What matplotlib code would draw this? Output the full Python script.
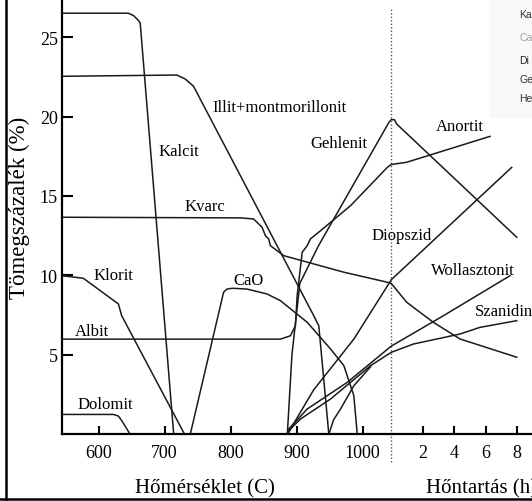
import matplotlib.pyplot as plt
from matplotlib.lines import Line2D
from matplotlib.patches import Rectangle

plt.rcParams['font.family'] = ['Liberation Serif', 'DejaVu Serif']

# Firing temperature part (C) of each mineral curve, mass %
kalcit_T = [544.5, 645, 653, 659, 663, 713.8]
kalcit_pct = [26.5, 26.5, 26.35, 26.1, 25.9, 0.0]

illit_T = [544.5, 718.6, 731.3, 743.9, 926.1, 933.7, 948.9]
illit_pct = [22.53, 22.61, 22.36, 21.9, 7.46, 6.83, 0.0]

kvarc_T = [544.5, 814.8, 835.0, 847.7, 852.8, 857.8, 860.4, 880.6, 971.7, 1037.6, 1043.6]
kvarc_pct = [13.66, 13.62, 13.55, 13.03, 12.5, 12.29, 11.87, 11.24, 10.2, 9.57, 9.49]

klorit_T = [544.5, 576.9, 630.0, 635.0, 730.3]
klorit_pct = [9.98, 9.82, 8.2, 7.46, 0.0]

albit_T = [544.5, 875.5, 890.7, 898.3, 900.9, 908.5, 916.1, 921.1, 936.3, 981.9, 1037.6, 1043.6]
albit_pct = [5.99, 5.99, 6.2, 6.83, 8.72, 11.45, 11.87, 12.3, 12.81, 14.39, 16.8, 16.98]

dolomit_T = [544.5, 622.4, 630.0, 635.0, 647.8]
dolomit_pct = [1.25, 1.25, 1.15, 0.86, 0.0]

cao_T = [738.9, 789.4, 794.6, 802.6, 825.0, 855.3, 875.5, 916.1, 951.5, 971.7, 986.8, 992.0]
cao_pct = [0.0, 8.94, 9.14, 9.19, 9.14, 8.83, 8.41, 7.05, 5.37, 4.32, 2.43, 0.0]

gehlenit_T = [886.0, 893.0, 905.0, 933.3, 1040.0, 1043.6]
gehlenit_pct = [0.0, 5.0, 9.5, 11.87, 19.63, 19.8]

diopszid_T = [886.0, 926.0, 987.0, 1043.6]
diopszid_pct = [0.0, 2.8, 6.0, 9.73]

woll_T = [885.7, 888.1, 916.1, 976.8, 1043.6]
woll_pct = [0.0, 0.33, 1.59, 3.27, 5.55]

szanidin_T = [886.5, 890.7, 905.9, 951.5, 1012.2, 1043.6]
szanidin_pct = [0.0, 0.33, 0.96, 2.22, 4.32, 5.16]

# second branch joining the Szanidin curve from 950 C
szanidin_b_T = [948.9, 956.0, 966.6, 986.9, 1012.2]
szanidin_b_pct = [0.0, 0.9, 1.59, 3.06, 4.25]

# Holding time part (h)
gehlenit_h = [0.0, 0.2, 0.34, 7.98]
gehlenit_h_pct = [19.8, 19.8, 19.53, 12.4]

albit_h = [0.0, 0.98, 6.28]
albit_h_pct = [16.98, 17.12, 18.75]

kvarc_h = [0.0, 0.98, 2.67, 4.37, 7.98]
kvarc_h_pct = [9.49, 8.31, 7.05, 6.0, 4.85]

diopszid_h = [0.0, 7.66]
diopszid_h_pct = [9.73, 16.8]

woll_h = [0.0, 3.31, 7.55]
woll_h_pct = [5.55, 7.46, 9.98]

szanidin_h = [0.0, 1.40, 4.37, 5.64, 7.98]
szanidin_h_pct = [5.16, 5.68, 6.31, 6.73, 7.15]

legend_names = ['Ka', 'Ca', 'Di', 'Ge', 'He']

W, H = 532, 502
fig = plt.figure(figsize=(W / 100, H / 100), dpi=100)
x0, x_split, y0 = 62, 391.3, 435.3
ax1 = fig.add_axes([x0 / W, 1 - y0 / H, (x_split - x0) / W, y0 / H])
ax2 = fig.add_axes([x_split / W, 1 - y0 / H, (W - x_split) / W, y0 / H])

lc = '#1a1a1a'
lw = 1.1
for T, p in [(kalcit_T, kalcit_pct), (illit_T, illit_pct), (kvarc_T, kvarc_pct),
             (klorit_T, klorit_pct), (albit_T, albit_pct), (dolomit_T, dolomit_pct),
             (cao_T, cao_pct), (gehlenit_T, gehlenit_pct), (diopszid_T, diopszid_pct),
             (woll_T, woll_pct), (szanidin_T, szanidin_pct), (szanidin_b_T, szanidin_b_pct)]:
    ax1.plot(T, p, color=lc, lw=lw, solid_joinstyle='round')
for h, p in [(gehlenit_h, gehlenit_h_pct), (albit_h, albit_h_pct), (kvarc_h, kvarc_h_pct),
             (diopszid_h, diopszid_h_pct), (woll_h, woll_h_pct), (szanidin_h, szanidin_h_pct)]:
    ax2.plot(h, p, color=lc, lw=lw, solid_joinstyle='round')

ymax = y0 / 15.89
ax1.set_xlim(544.5, 1043.6)
ax1.set_ylim(0, ymax)
ax2.set_xlim(0, (W - x_split) / 15.72)
ax2.set_ylim(0, ymax)

for ax in (ax1, ax2):
    ax.set_facecolor('none')
    for s in ('top', 'right'):
        ax.spines[s].set_visible(False)
    ax.spines['bottom'].set_linewidth(1.6)
    ax.tick_params(direction='in', length=6, width=1.5, labelsize=13, pad=7)
ax1.spines['left'].set_linewidth(1.6)
ax2.spines['left'].set_visible(False)
ax1.set_xticks([600, 700, 800, 900, 1000])
ax1.set_yticks([5, 10, 15, 20, 25])
ax1.tick_params(axis='y', pad=3, length=8)
ax2.set_xticks([2, 4, 6, 8])
ax2.set_yticks([])

# boundary between the temperature and holding-time scales
ax1.plot([1043.6, 1043.6], [-1.74, 26.77], color='#555555', lw=1.0, ls=(0, (1, 1.5)),
         clip_on=False)

# curve labels
fs = 12
ax1.text(722.2, 17.83, 'Kalcit', fontsize=fs, ha='center', va='center')
ax1.text(874, 20.6, 'Illit+montmorillonit', fontsize=fs, ha='center', va='center')
ax1.text(761.6, 14.37, 'Kvarc', fontsize=fs, ha='center', va='center')
ax1.text(963.6, 18.33, 'Gehlenit', fontsize=fs, ha='center', va='center')
ax1.text(621.9, 10.03, 'Klorit', fontsize=fs, ha='center', va='center')
ax1.text(827, 9.71, 'CaO', fontsize=fs, ha='center', va='center')
ax1.text(590, 6.5, 'Albit', fontsize=fs, ha='center', va='center')
ax1.text(609.8, 1.91, 'Dolomit', fontsize=fs, ha='center', va='center')
ax2.text(0.68, 12.54, 'Diopszid', fontsize=fs, ha='center', va='center')
ax2.text(4.37, 19.4, 'Anortit', fontsize=fs, ha='center', va='center')
ax2.text(5.2, 10.34, 'Wollasztonit', fontsize=fs, ha='center', va='center')
ax2.text(5.3, 7.76, 'Szanidin', fontsize=fs, ha='left', va='center')

fig.text(205 / W, 1 - 493 / H, 'Hőmérséklet (C)', fontsize=15, ha='center', va='baseline')
fig.text(425.7 / W, 1 - 493 / H, 'Hőntartás (h)', fontsize=15, ha='left', va='baseline')
fig.text(19 / W, 1 - 208 / H, 'Tömegszázalék (%)', fontsize=16.5, rotation=90,
         ha='center', va='center')

# legend panel of the neighbouring chart
fig.add_artist(Rectangle((490 / W, 1 - 118 / H), 42 / W, 118 / H,
                         transform=fig.transFigure, color='#f8f8f8', zorder=-1))
leg_y = [15, 38, 61, 80, 99]
leg_c = ['#333333', '#a0a0a0', '#222222', '#333333', '#333333']
for name, y, c in zip(legend_names, leg_y, leg_c):
    fig.text(519 / W, 1 - y / H, name, fontsize=7.5, color=c, ha='left', va='center',
             family=['Liberation Sans', 'DejaVu Sans'])

# outer frame
fig.add_artist(Line2D([6 / W, 6 / W], [0, 1], color='black', lw=1.8))
fig.add_artist(Line2D([0, 1], [2 / H, 2 / H], color='black', lw=1.8))

fig.savefig('out.png', dpi=100)
